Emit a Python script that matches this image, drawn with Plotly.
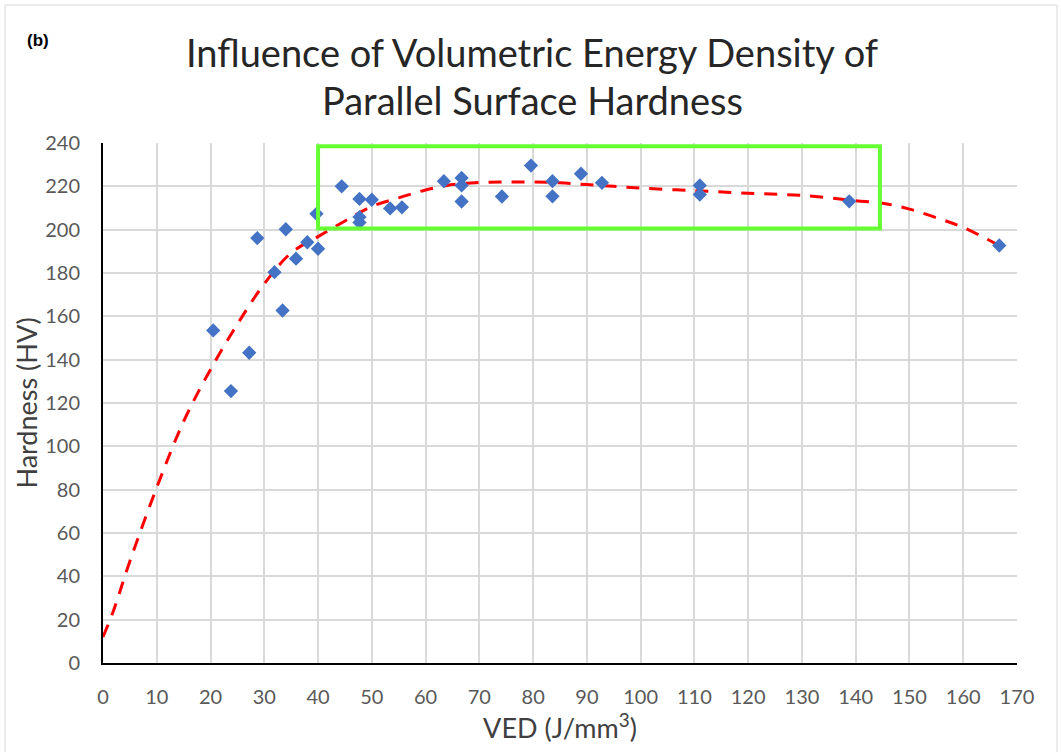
import plotly.graph_objects as go

# Measured data points (VED, Hardness)
ved = [20.5, 23.8, 27.2, 28.7, 31.9, 33.4, 34.0, 35.9, 38.0, 39.7, 40.0,
       44.4, 47.7, 47.7, 47.7, 50.0, 53.4, 55.6, 63.4, 66.7, 66.7, 66.7,
       74.2, 79.6, 83.6, 83.6, 88.9, 92.8, 111.0, 111.0, 138.8, 166.7]
hardness = [153.5, 125.5, 143.2, 196.1, 180.4, 162.7, 200.2, 186.6, 194.2, 207.3, 191.2,
            220.0, 214.2, 205.8, 203.3, 213.8, 209.8, 210.3, 222.4, 223.9, 220.4, 213.0,
            215.3, 229.6, 222.4, 215.4, 225.8, 221.6, 220.4, 216.2, 213.1, 192.7]

# Trendline
trend_x = [0, 2, 5, 10, 15, 20, 25, 30, 35, 40, 45, 50, 55, 60, 65, 70, 75, 80,
           85, 90, 95, 100, 110, 120, 130, 140, 145, 150, 155, 160, 167]
trend_y = [12, 24.5, 47, 81, 111.5, 135.5, 156.4, 175, 189.3, 196.8, 204, 210.7, 214.7,
           218.3, 220.8, 221.8, 222, 222, 221.6, 220.8, 220, 219.2, 218, 216.8, 215.8,
           213.4, 212.2, 209.5, 205.5, 201, 192.3]

x_ticks = list(range(0, 171, 10))
y_ticks = list(range(0, 241, 20))

title_lines = ["Influence of Volumetric Energy Density of", "Parallel Surface Hardness"]

# pixel geometry of the plot area
L, R, T, B = 103, 1017, 143, 663
PW, PH = R - L, B - T


def px(xp):
    return (xp - L) / PW


def py(yp):
    return (B - yp) / PH


fig = go.Figure()
fig.add_trace(go.Scatter(
    x=trend_x, y=trend_y, mode="lines", line_shape="spline",
    line=dict(color="#FF0000", width=3, dash="13px,10px"),
    hoverinfo="skip", showlegend=False))
fig.add_trace(go.Scatter(
    x=ved, y=hardness, mode="markers",
    marker=dict(symbol="diamond", size=11, color="#4472C4"),
    showlegend=False))

fig.add_shape(type="rect", xref="x", yref="y", x0=40, x1=144.5, y0=200.5, y1=238.5,
              line=dict(color="#66FF33", width=4))
# outer figure border
fig.add_shape(type="rect", xref="paper", yref="paper", x0=px(5), x1=px(1057),
              y0=py(760), y1=py(5),
              line=dict(color="#D9D9D9", width=1), layer="below")

fig.add_annotation(text="<b>(b)</b>", xref="paper", yref="paper",
                   x=px(25), y=py(40), xanchor="left", yanchor="middle",
                   showarrow=False, font=dict(family="Liberation Sans", size=17, color="#000000"))

for i, (line, yc) in enumerate(zip(title_lines, [52, 100])):
    fig.add_annotation(text=line, xref="paper", yref="paper", x=px(532), y=py(yc),
                       xanchor="center", yanchor="middle", showarrow=False,
                       font=dict(family="Lato", size=38, color="#262626"))

fig.update_layout(
    width=1061, height=752,
    margin=dict(l=L, r=1061 - R, t=T, b=752 - B),
    paper_bgcolor="white", plot_bgcolor="white",
    xaxis=dict(range=[0, 170], tickvals=x_ticks, showgrid=True, gridcolor="#D9D9D9", gridwidth=2,
               zeroline=False, showline=True, linecolor="#000000", linewidth=2,
               ticks="", ticklabelstandoff=15,
               tickfont=dict(family="Lato", size=20, color="#595959"),
               title=dict(text="VED (J/mm<sup>3</sup>)", standoff=10,
                          font=dict(family="Lato", size=27, color="#404040"))),
    yaxis=dict(range=[0, 240], tickvals=y_ticks, showgrid=True, gridcolor="#D9D9D9", gridwidth=2,
               zeroline=False, showline=True, linecolor="#000000", linewidth=2,
               ticks="", ticklabelstandoff=17,
               tickfont=dict(family="Lato", size=20, color="#595959"),
               title=dict(text="Hardness (HV)", standoff=0,
                          font=dict(family="Lato", size=27, color="#404040"))),
)

fig.write_html("out.html")
